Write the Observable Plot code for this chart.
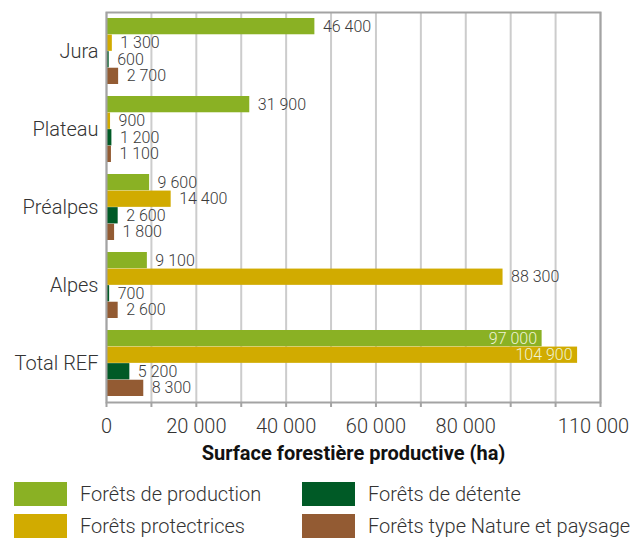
<!DOCTYPE html>
<html>
<head>
<meta charset="utf-8">
<script src="https://cdn.jsdelivr.net/npm/d3@7"></script>
<script src="https://cdn.jsdelivr.net/npm/@observablehq/plot@0.6"></script>
<style>
  body { margin: 0; background: #fff; font-family: Roboto, "Noto Sans", sans-serif; }
  #chart svg { display: block; }
  #legend { position: relative; height: 69px; margin-top: 12px; }
  .item { position: absolute; display: flex; align-items: center; height: 24px; }
  .sw { width: 53px; height: 24px; margin-right: 13px; }
  .lab { font-size: 20px; font-weight: 300; color: #333; line-height: 24px; white-space: nowrap; }
</style>
</head>
<body>
<div id="chart"></div>
<div id="legend"></div>
<script>
const regions = ["Jura", "Plateau", "Préalpes", "Alpes", "Total REF"];
const seriesNames = ["Forêts de production", "Forêts protectrices", "Forêts de détente", "Forêts type Nature et paysage"];
const production   = [46400, 31900, 9600, 9100, 97000];
const protectrices = [1300, 900, 14400, 88300, 104900];
const detente      = [600, 1200, 2600, 700, 5200];
const nature       = [2700, 1100, 1800, 2600, 8300];
const seriesValues = [production, protectrices, detente, nature];
const colors = ["#8ab124", "#d1ab00", "#005a26", "#935b33"];
const gridTicks = [0, 10000, 20000, 30000, 40000, 50000, 60000, 70000, 80000, 90000, 100000, 110000];
const labelTicks = [0, 20000, 40000, 60000, 80000];
const lastLabelTick = [110000];
const xLabel = "Surface forestière productive (ha)";

const fmt = d => d3.format(",")(d).replace(/,/g, " ");

const W = 634, H = 470, mt = 12, mb = 68, ml = 106, mr = 34;
const pIn = 0.15, pOut = 0.075;
const innerH = H - mt - mb;
const step = innerH / (regions.length - pIn + 2 * pOut);
const bw = step * (1 - pIn);
const h = bw / seriesNames.length;

const rows = [];
seriesValues.forEach((vals, i) => {
  regions.forEach((r, j) => rows.push({region: r, series: seriesNames[i], si: i, value: vals[j]}));
});

const marks = [
  Plot.ruleX(gridTicks, {stroke: "#cccccc", strokeWidth: 2}),
];
seriesNames.forEach((s, i) => {
  const d = rows.filter(r => r.si === i);
  marks.push(Plot.barX(d, {
    x: "value", y: "region", fill: colors[i],
    insetTop: i * h, insetBottom: (seriesNames.length - 1 - i) * h
  }));
  marks.push(Plot.text(d.filter(r => r.value < 95000), {
    x: "value", y: "region", text: r => fmt(r.value),
    dy: (i - 1.5) * h, dx: 8, textAnchor: "start", lineAnchor: "middle",
    fontSize: 16, fill: "#3a3a3a"
  }));
  marks.push(Plot.text(d.filter(r => r.value >= 95000), {
    x: "value", y: "region", text: r => fmt(r.value),
    dy: (i - 1.5) * h, dx: -5, textAnchor: "end", lineAnchor: "middle",
    fontSize: 16, fill: "#eef3d4"
  }));
});
marks.push(
  Plot.frame({stroke: "#a3a3a3", strokeWidth: 2}),
  Plot.axisX({ticks: gridTicks, tickSize: 5, stroke: "#a3a3a3", strokeWidth: 2, text: null, label: null}),
  Plot.axisX({ticks: labelTicks, tickSize: 0, tickPadding: 16, tickFormat: fmt, fontSize: 20, fill: "#333", label: null}),
  Plot.axisX({ticks: lastLabelTick, tickSize: 0, tickPadding: 16, tickFormat: fmt, fontSize: 20, fill: "#333", label: null, dx: -7}),
  Plot.axisY({tickSize: 0, tickPadding: 8, fontSize: 20, fill: "#333", label: null}),
  Plot.text([xLabel], {frameAnchor: "bottom", dy: 51, text: d => d, fontSize: 20, fontWeight: "bold", fill: "#111", lineAnchor: "middle"})
);

const chart = Plot.plot({
  width: W, height: H,
  marginTop: mt, marginBottom: mb, marginLeft: ml, marginRight: mr,
  style: {fontFamily: "Roboto, 'Noto Sans', sans-serif", fontWeight: 300, background: "#fff", overflow: "visible"},
  x: {domain: [0, 110000]},
  y: {domain: regions, paddingInner: pIn, paddingOuter: pOut},
  marks
});
document.getElementById("chart").appendChild(chart);

const legend = document.getElementById("legend");
const pos = [[14, 0], [14, 32], [302, 0], [302, 32]];
[0, 1, 2, 3].forEach(i => {
  const it = document.createElement("div");
  it.className = "item";
  it.style.left = pos[i][0] + "px";
  it.style.top = pos[i][1] + "px";
  const sw = document.createElement("div");
  sw.className = "sw";
  sw.style.background = colors[i];
  const lab = document.createElement("span");
  lab.className = "lab";
  lab.textContent = seriesNames[i];
  it.appendChild(sw); it.appendChild(lab);
  legend.appendChild(it);
});
</script>
</body>
</html>
